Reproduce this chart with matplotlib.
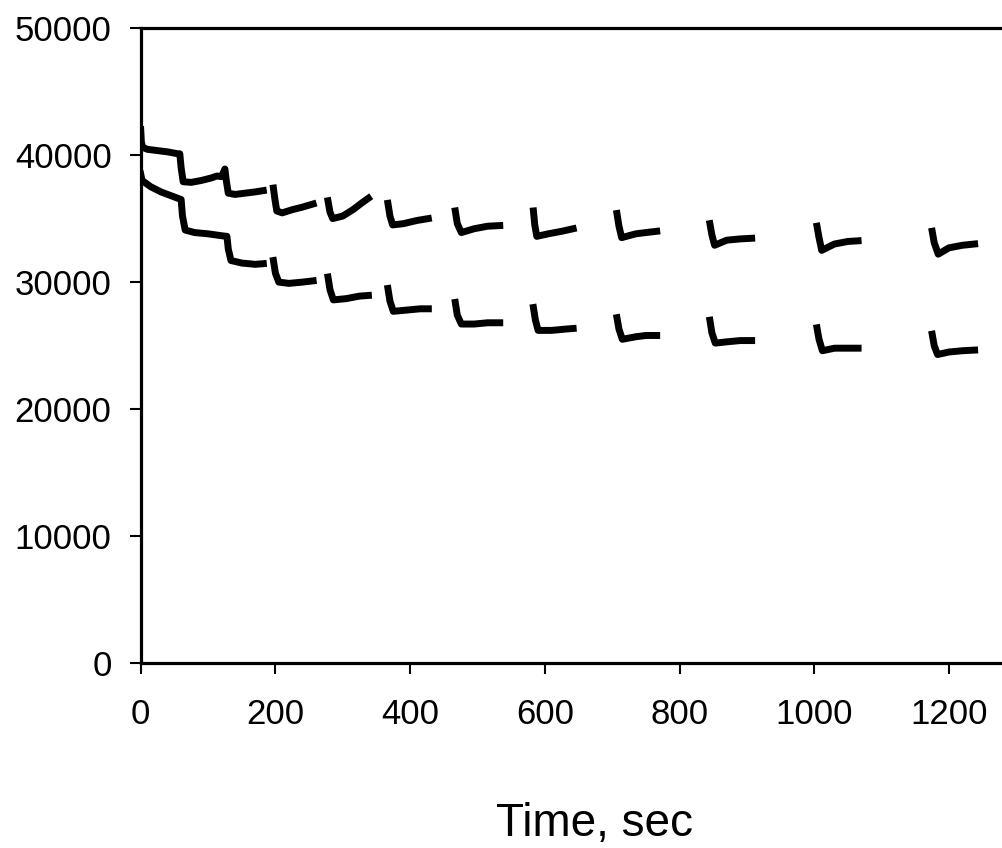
import numpy as np
import matplotlib.pyplot as plt

plt.rcParams['font.family'] = ['Liberation Sans', 'DejaVu Sans']

nan = np.nan

# upper trace, segments separated by nan
upper_t = [0, 1, 3, 10, 25, 40, 55, 58, 60, 63, 75, 90, 105, 113, 120, 125, 127, 130, 140, 155, 170, 182, nan,
           197, 199, 202, 210, 225, 240, 256, nan,
           278, 281, 285, 300, 315, 330, 338, nan,
           367, 370, 374, 390, 410, 427, nan,
           467, 470, 476, 495, 515, 533, nan,
           583, 585, 588, 605, 625, 642, nan,
           707, 710, 714, 735, 750, 766, nan,
           845, 848, 852, 870, 890, 907, nan,
           1004, 1007, 1011, 1030, 1050, 1065, nan,
           1175, 1178, 1184, 1200, 1220, 1238]
upper_y = [42000, 41000, 40600, 40450, 40350, 40250, 40100, 40100, 39000, 37900, 37850, 38000, 38200, 38350, 38300, 38900, 38000, 37000, 36900, 37000, 37100, 37200, nan,
           37400, 36600, 35600, 35450, 35700, 35900, 36150, nan,
           36400, 35500, 35000, 35200, 35700, 36300, 36600, nan,
           36200, 35200, 34500, 34600, 34850, 35000, nan,
           35600, 34600, 33900, 34200, 34400, 34450, nan,
           35600, 34500, 33600, 33800, 34000, 34200, nan,
           35400, 34400, 33500, 33800, 33900, 34000, nan,
           34600, 33700, 32900, 33300, 33400, 33450, nan,
           34400, 33500, 32500, 33000, 33200, 33250, nan,
           34000, 33100, 32200, 32700, 32900, 33000]

# lower trace
lower_t = [0, 2, 15, 30, 45, 60, 62, 66, 80, 100, 120, 128, 130, 134, 150, 170, 182, nan,
           197, 200, 205, 220, 240, 256, nan,
           278, 281, 286, 305, 325, 338, nan,
           367, 370, 375, 395, 415, 427, nan,
           467, 470, 476, 495, 515, 533, nan,
           583, 586, 590, 610, 630, 642, nan,
           707, 710, 715, 735, 750, 766, nan,
           845, 848, 853, 870, 890, 907, nan,
           1004, 1007, 1012, 1030, 1050, 1065, nan,
           1175, 1178, 1183, 1200, 1220, 1238]
lower_y = [38500, 38000, 37500, 37100, 36800, 36500, 35200, 34100, 33900, 33800, 33650, 33600, 32600, 31700, 31500, 31400, 31450, nan,
           31700, 30700, 30000, 29900, 30000, 30100, nan,
           30400, 29400, 28600, 28700, 28900, 28950, nan,
           29500, 28500, 27700, 27800, 27900, 27900, nan,
           28400, 27400, 26700, 26700, 26800, 26800, nan,
           28000, 27000, 26200, 26200, 26300, 26350, nan,
           27200, 26300, 25500, 25700, 25800, 25800, nan,
           27000, 26000, 25200, 25300, 25400, 25400, nan,
           26400, 25500, 24600, 24800, 24800, 24800, nan,
           25900, 25000, 24300, 24500, 24600, 24650]

x_ticks = [0, 200, 400, 600, 800, 1000, 1200]
y_ticks = [0, 10000, 20000, 30000, 40000, 50000]

fig = plt.figure(figsize=(10.03, 8.48), dpi=100)
ax = fig.add_axes([0.1403, 0.2178, 0.9402, 0.7492])

ax.plot(upper_t, upper_y, color='black', lw=5)
ax.plot(lower_t, lower_y, color='black', lw=5)

ax.set_xlim(0, 1400)
ax.set_ylim(0, 50000)
ax.set_xticks(x_ticks)
ax.set_yticks(y_ticks)
ax.tick_params(direction='out', length=8, width=1.5, labelsize=25)
ax.tick_params(axis='y', pad=13)
ax.tick_params(axis='x', pad=17)
for side in ['left', 'top', 'bottom']:
    ax.spines[side].set_linewidth(2.3)
ax.spines['right'].set_visible(False)

fig.text(0.593, 0.0142, 'Time, sec', fontsize=33, ha='center', va='baseline')

fig.savefig('out.png', dpi=100)
